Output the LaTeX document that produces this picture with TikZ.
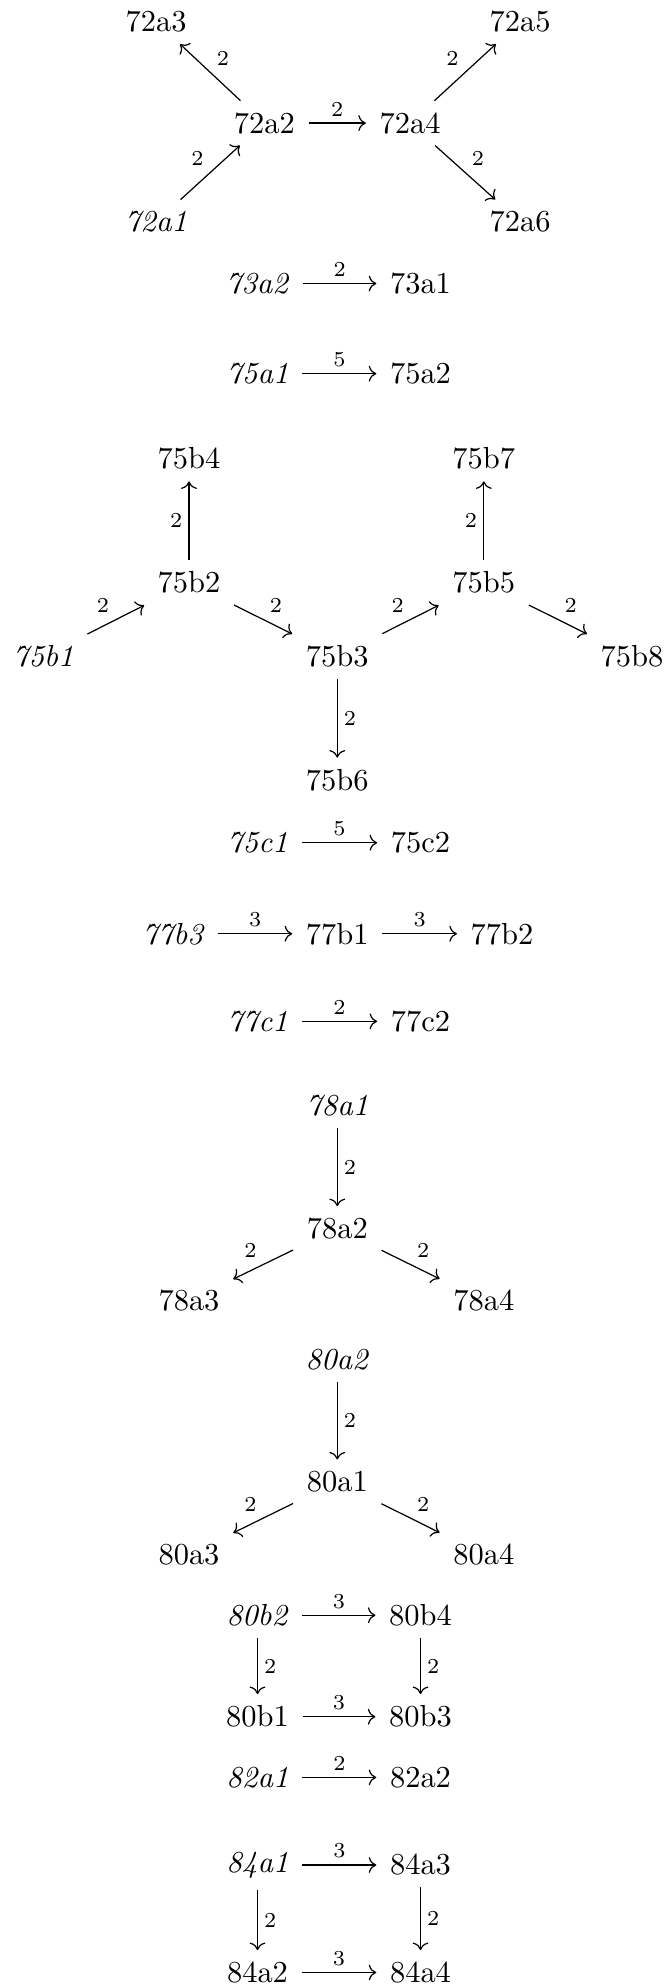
\documentclass[tikz,border=0pt]{standalone}
\usetikzlibrary{cd}
\begin{document}
\begin{tikzpicture}[>={cm to}, every node/.style={inner xsep=1ex, inner ysep=0.85ex}, lbl/.style={font=\scriptsize, inner sep=2pt}]
            \useasboundingbox (0,0) rectangle (7.705,-22.906);
            % 72a
            \node (n72a3) at (1.80,-0.25) {72a3};
            \node (n72a5) at (6.00,-0.25) {72a5};
            \node (n72a2) at (3.05,-1.42) {72a2};
            \node (n72a4) at (4.73,-1.42) {72a4};
            \node (n72a1) at (1.80,-2.56) {\textit{72a1}};
            \node (n72a6) at (6.00,-2.56) {72a6};
            \draw[->] (n72a1) -- node[lbl, above left] {2} (n72a2);
            \draw[->] (n72a2) -- node[lbl, above right] {2} (n72a3);
            \draw[->] (n72a2) -- node[lbl, above] {2} (n72a4);
            \draw[->] (n72a4) -- node[lbl, above left] {2} (n72a5);
            \draw[->] (n72a4) -- node[lbl, above right] {2} (n72a6);
            % 73a
            \node (n73a2) at (2.97,-3.27) {\textit{73a2}};
            \node (n73a1) at (4.85,-3.27) {73a1};
            \draw[->] (n73a2) -- node[lbl, above] {2} (n73a1);
            % 75a
            \node (n75a1) at (2.97,-4.31) {\textit{75a1}};
            \node (n75a2) at (4.85,-4.31) {75a2};
            \draw[->] (n75a1) -- node[lbl, above] {5} (n75a2);
            % 75b
            \node (n75b4) at (2.18,-5.29) {75b4};
            \node (n75b7) at (5.58,-5.29) {75b7};
            \node (n75b2) at (2.18,-6.72) {75b2};
            \node (n75b5) at (5.58,-6.72) {75b5};
            \node (n75b1) at (0.50,-7.57) {\textit{75b1}};
            \node (n75b3) at (3.89,-7.57) {75b3};
            \node (n75b8) at (7.29,-7.57) {75b8};
            \node (n75b6) at (3.89,-9.00) {75b6};
            \draw[->] (n75b1) -- node[lbl, above left] {2} (n75b2);
            \draw[->] (n75b2) -- node[lbl, left] {2} (n75b4);
            \draw[->] (n75b2) -- node[lbl, above right] {2} (n75b3);
            \draw[->] (n75b3) -- node[lbl, above left] {2} (n75b5);
            \draw[->] (n75b5) -- node[lbl, left] {2} (n75b7);
            \draw[->] (n75b5) -- node[lbl, above right] {2} (n75b8);
            \draw[->] (n75b3) -- node[lbl, right] {2} (n75b6);
            % 75c
            \node (n75c1) at (2.97,-9.72) {\textit{75c1}};
            \node (n75c2) at (4.85,-9.72) {75c2};
            \draw[->] (n75c1) -- node[lbl, above] {5} (n75c2);
            % 77b
            \node (n77b3) at (2.00,-10.77) {\textit{77b3}};
            \node (n77b1) at (3.89,-10.77) {77b1};
            \node (n77b2) at (5.79,-10.77) {77b2};
            \draw[->] (n77b3) -- node[lbl, above] {3} (n77b1);
            \draw[->] (n77b1) -- node[lbl, above] {3} (n77b2);
            % 77c
            \node (n77c1) at (2.97,-11.78) {\textit{77c1}};
            \node (n77c2) at (4.85,-11.78) {77c2};
            \draw[->] (n77c1) -- node[lbl, above] {2} (n77c2);
            % 78a
            \node (n78a1) at (3.89,-12.75) {\textit{78a1}};
            \node (n78a2) at (3.89,-14.17) {78a2};
            \node (n78a3) at (2.18,-15.00) {78a3};
            \node (n78a4) at (5.58,-15.00) {78a4};
            \draw[->] (n78a1) -- node[lbl, right] {2} (n78a2);
            \draw[->] (n78a2) -- node[lbl, above left] {2} (n78a3);
            \draw[->] (n78a2) -- node[lbl, above right] {2} (n78a4);
            % 80a
            \node (n80a2) at (3.89,-15.68) {\textit{80a2}};
            \node (n80a1) at (3.89,-17.09) {80a1};
            \node (n80a3) at (2.18,-17.93) {80a3};
            \node (n80a4) at (5.58,-17.93) {80a4};
            \draw[->] (n80a2) -- node[lbl, right] {2} (n80a1);
            \draw[->] (n80a1) -- node[lbl, above left] {2} (n80a3);
            \draw[->] (n80a1) -- node[lbl, above right] {2} (n80a4);
            % 80b
            \node (n80b2) at (2.97,-18.63) {\textit{80b2}};
            \node (n80b4) at (4.85,-18.63) {80b4};
            \node (n80b1) at (2.97,-19.80) {80b1};
            \node (n80b3) at (4.85,-19.80) {80b3};
            \draw[->] (n80b2) -- node[lbl, above] {3} (n80b4);
            \draw[->] (n80b2) -- node[lbl, right] {2} (n80b1);
            \draw[->] (n80b4) -- node[lbl, right] {2} (n80b3);
            \draw[->] (n80b1) -- node[lbl, above] {3} (n80b3);
            % 82a
            \node (n82a1) at (2.97,-20.50) {\textit{82a1}};
            \node (n82a2) at (4.85,-20.50) {82a2};
            \draw[->] (n82a1) -- node[lbl, above] {2} (n82a2);
            % 84a
            \node (n84a1) at (2.97,-21.51) {\textit{84a1}};
            \node (n84a3) at (4.85,-21.51) {84a3};
            \node (n84a2) at (2.97,-22.75) {84a2};
            \node (n84a4) at (4.85,-22.75) {84a4};
            \draw[->] (n84a1) -- node[lbl, above] {3} (n84a3);
            \draw[->] (n84a1) -- node[lbl, right] {2} (n84a2);
            \draw[->] (n84a3) -- node[lbl, right] {2} (n84a4);
            \draw[->] (n84a2) -- node[lbl, above] {3} (n84a4);
        \end{tikzpicture}
\end{document}
